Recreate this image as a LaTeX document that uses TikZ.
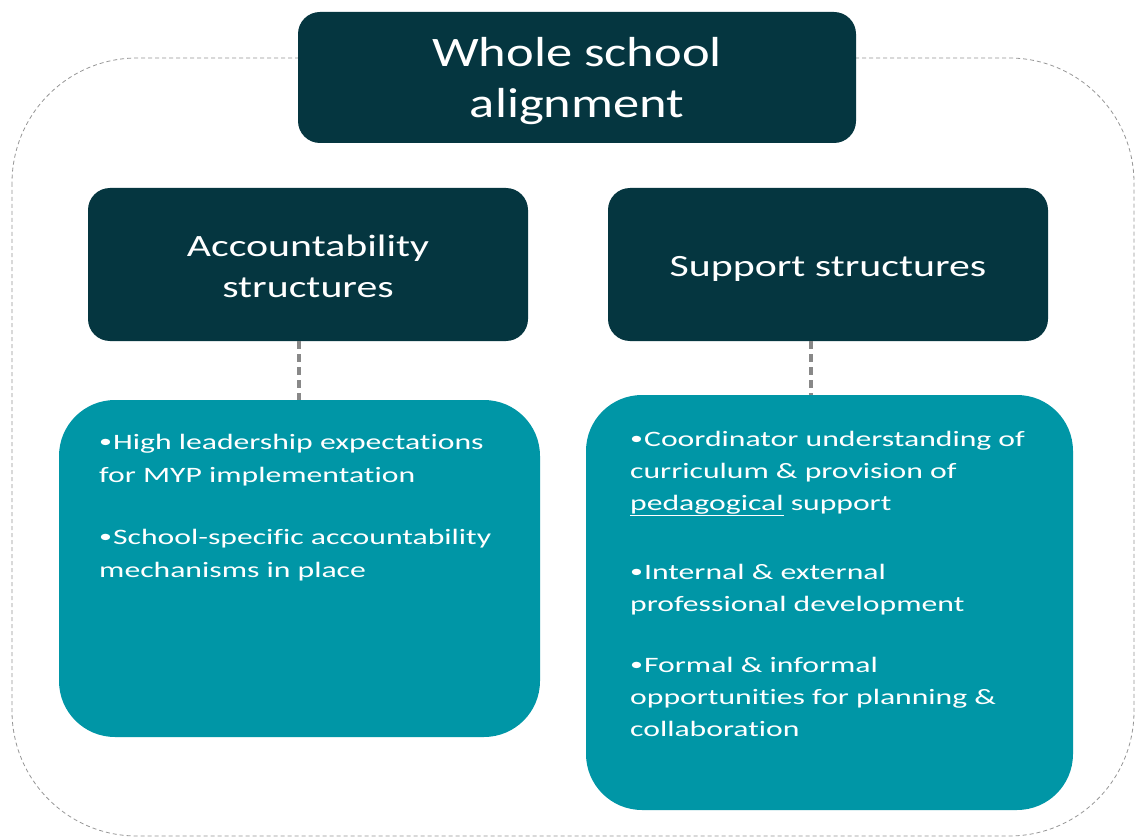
\documentclass[tikz,border=0pt]{standalone}
\usepackage{fontspec}
\setmainfont{Carlito}
\newfontfamily\titlefont[FakeStretch=1.25,Ligatures=NoCommon]{Carlito}
\newfontfamily\headfont[FakeStretch=1.35,Ligatures=NoCommon]{Carlito}
\newfontfamily\bodyfont[FakeStretch=1.44,Ligatures=NoCommon]{Carlito}
\newcommand{\blt}{\raisebox{1.6pt}{\fontsize{18}{18}\selectfont\textbullet}\hspace{1pt}}
\usetikzlibrary{calc}
\definecolor{darkteal}{RGB}{5,54,64}
\definecolor{lightteal}{RGB}{0,150,166}
\definecolor{dashgray}{RGB}{136,136,136}
\definecolor{outergray}{RGB}{150,150,150}
\tikzset{
  darkbox/.style={fill=darkteal, draw=none, rounded corners=22pt, inner sep=0pt},
  boxtext/.style={text=white, align=center, inner sep=0pt},
  tealbox/.style={fill=lightteal, draw=none, rounded corners=56pt, inner sep=0pt},
  bodytext/.style={text=white, align=left, anchor=base west, inner sep=0pt, font=\bodyfont\fontsize{22}{33}\selectfont},
  outerline/.style={draw=outergray, line width=0.8pt, dash pattern=on 4pt off 3pt},
  connline/.style={draw=dashgray, line width=3.5pt, dash pattern=on 8pt off 5pt}
}
\begin{document}
\begin{tikzpicture}[x=1pt,y=-1pt]
\useasboundingbox (0,0) rectangle (1135,837);
\fill[white] (0,0) rectangle (1135,837);
% outer dashed frame
\draw[outerline, rounded corners=125pt] (12,58) rectangle (1134,836);
% title
\node[darkbox, minimum width=558pt, minimum height=131pt] (title) at (577,77.5) {};
\node[boxtext, font=\titlefont\fontsize{42}{51}\selectfont] (titlet) at (577,81.5) {Whole school\\alignment};
% headers
\node[darkbox, minimum width=440pt, minimum height=153pt] (acc) at (308,264.5) {};
\node[boxtext, font=\headfont\fontsize{31}{41}\selectfont] (acct) at (308,266.5) {Accountability\\structures};
\node[darkbox, minimum width=440pt, minimum height=153pt] (sup) at (828,264.5) {};
\node[boxtext, font=\headfont\fontsize{31}{41}\selectfont] (supt) at (828,268.5) {Support structures};
% teal boxes
\node[tealbox, minimum width=481pt, minimum height=337pt] (accl) at (299.5,568.5) {};
\node[tealbox, minimum width=487pt, minimum height=415pt] (supl) at (829.5,602.5) {};
% connectors
\coordinate (accc) at (299,341);
\coordinate (supc) at (811,341);
\draw[connline] (accc) -- (accc |- accl.north);
\draw[connline] (supc) -- (supc |- supl.north);
% texts (base anchor = last line baseline)
\node[bodytext] (accb) at (99,577) {\blt High leadership expectations\\for MYP implementation\\[29pt]\blt School-specific accountability\\mechanisms in place};
\node[bodytext, font=\bodyfont\fontsize{22}{32}\selectfont] (supb) at (630,736) {\blt Coordinator understanding of\\curriculum \& provision of\\\underline{pedagogical} support\\[37pt]\blt Internal \& external\\professional development\\[29pt]\blt Formal \& informal\\opportunities for planning \&\\collaboration};
\end{tikzpicture}
\end{document}
